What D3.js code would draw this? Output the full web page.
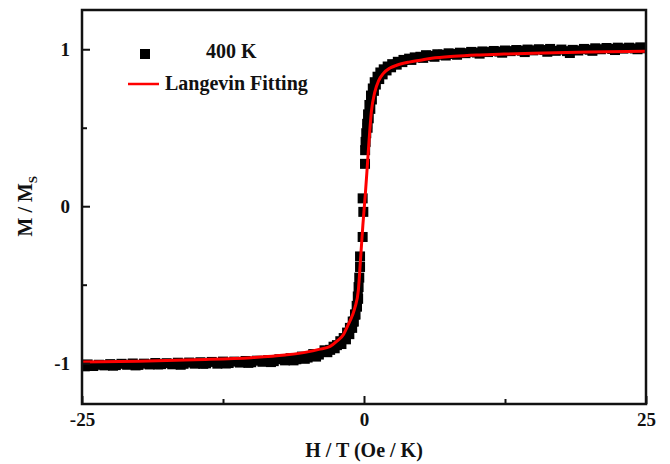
<!DOCTYPE html>
<html>
<head>
<meta charset="utf-8">
<script src="https://cdn.jsdelivr.net/npm/d3@7"></script>
<style>
  html, body { margin: 0; padding: 0; background: #fff; }
  #canvas { width: 670px; height: 464px; }
  text { font-family: "Liberation Serif", "Times New Roman", serif; font-weight: bold; fill: #111; }
  .axis path { display: none; }
  .axis line { stroke: #111; stroke-width: 2px; }
</style>
</head>
<body>
<div id="canvas" class="canvas"></div>
<script>
// measured points, 400 K (H/T in Oe/K, M/Ms) - first sweep
var dataH = [-25,-24.5,-24,-23.5,-23,-22.5,-22,-21.5,-21,-20.5,-20,-19.5,-19,-18.5,-18,-17.5,-17,-16.5,-16,-15.5,
  -15,-14.5,-14,-13.5,-13,-12.5,-12,-11.5,-11,-10.5,-10,-9.5,-9,-8.5,-8,-7.5,-7,-6.5,-6,-5.5,
  -5,-4.5,-4,-3.5,-3,-2.7,-2.4,-2.1,-1.8,-1.5,-1.25,-1,-0.8,-0.65,-0.55,-0.48,-0.42,-0.35,-0.35,-0.12,
  -0.06,-0.12,0.09,0.1,0.14,0.2,0.28,0.36,0.48,0.62,0.78,0.95,1.2,1.45,1.75,2.1,2.5,3,3.5,4,
  4.5,5,5.5,6,6.5,7,7.5,8,8.5,9,9.5,10,10.5,11,11.5,12,12.5,13,13.5,14,
  14.5,15,15.5,16,16.5,17,17.5,18,18.5,19,19.5,20,20.5,21,21.5,22,22.5,23,23.5,24,
  24.5,25];
var dataM = [-1.015,-1.008,-1.018,-1.010,-1.014,-1.006,-1.012,-1.004,-1.010,-1.002,-1.011,-1.003,-1.008,-0.999,-1.006,-1.000,-1.007,-0.997,-1.004,-0.996,
  -1.003,-0.994,-1.001,-0.992,-1.003,-0.990,-0.999,-0.990,-0.996,-0.986,-0.994,-0.984,-0.991,-0.981,-0.987,-0.975,-0.982,-0.968,-0.975,-0.958,
  -0.964,-0.942,-0.945,-0.918,-0.915,-0.895,-0.885,-0.860,-0.840,-0.805,-0.775,-0.735,-0.690,-0.635,-0.575,-0.515,-0.455,-0.387,-0.320,-0.196,
  -0.036,0.050,0.270,0.357,0.410,0.465,0.525,0.585,0.645,0.705,0.750,0.790,0.825,0.852,0.872,0.890,0.905,0.920,0.932,0.940,
  0.948,0.952,0.962,0.958,0.968,0.965,0.974,0.970,0.978,0.975,0.983,0.979,0.986,0.982,0.989,0.985,0.992,0.988,0.995,0.991,
  0.998,0.993,1.000,0.995,1.002,0.990,0.998,0.988,0.996,0.992,1.002,0.997,1.006,1.000,1.008,1.002,1.010,1.004,1.010,1.005,
  1.012,1.006];

// second sweep
var data2H = [-24.75,-22.25,-20.25,-18.25,-16.25,-14.25,-12.25,-10.25,-8.25,-6.25,-5.25,-4.25,-3.25,-2.6,-2,-1.6,-1.3,-1.05,-0.9,-0.75,
  -0.62,-0.52,0.32,0.42,0.56,0.7,0.88,1.05,1.35,1.65,2,2.4,2.9,3.4,4.2,5.25,6.25,7.25,8.25,10.25,
  12.25,14.25,16.25,18.25,20.25,22.25,24.25];
var data2M = [-1.020,-1.016,-1.014,-1.008,-1.010,-1.004,-1.002,-0.998,-0.993,-0.982,-0.972,-0.958,-0.930,-0.905,-0.878,-0.848,-0.815,-0.775,-0.735,-0.690,
  -0.640,-0.590,0.500,0.560,0.620,0.680,0.735,0.775,0.810,0.840,0.865,0.885,0.902,0.918,0.932,0.945,0.952,0.960,0.965,0.972,
  0.978,0.982,0.984,0.976,0.990,0.995,1.000];

// Langevin fit
var fitH = [-25,-20,-15,-10,-7,-5,-4,-3,-2.4,-1.8,-1.4,-1,-0.8,-0.5,-0.3,-0.1,0.1,0.25,0.45,0.65,
  0.95,1.3,1.7,2.3,2.9,4,5,6,8,10,12,15,20,25];
var fitM = [-0.993,-0.988,-0.978,-0.965,-0.948,-0.928,-0.912,-0.893,-0.860,-0.815,-0.755,-0.690,-0.645,-0.535,-0.330,-0.120,0.060,0.210,0.420,0.600,
  0.725,0.800,0.845,0.880,0.898,0.918,0.930,0.942,0.955,0.963,0.968,0.975,0.983,0.988];

var xTicks = [-25,0,25],
    xMinor = [-12.5,12.5],
    yTicks = [-1,0,1],
    yMinor = [-0.5,0.5];

var outerWidth = 670, outerHeight = 464;
var m = {t:10,r:24,b:60,l:82};
var w = outerWidth - m.l - m.r,
    h = outerHeight - m.t - m.b;

var svg = d3.select('.canvas')
    .append('svg')
    .attr('width',outerWidth)
    .attr('height',outerHeight);

var plot = svg.append('g')
    .attr('transform','translate(' + m.l + ',' + m.t + ')');

//Scale
var scaleX = d3.scaleLinear().domain([-25,25]).range([0,w]);
var scaleY = d3.scaleLinear().domain([-1.26,1.25]).range([h,0]);

plot.append('clipPath').attr('id','clip')
    .append('rect').attr('width',w).attr('height',h);

var points = dataH.map(function(d,i){ return {h:d, m:dataM[i]}; })
    .concat(data2H.map(function(d,i){ return {h:d, m:data2M[i]}; }));
var fit = fitH.map(function(d,i){ return {h:d, m:fitM[i]}; });

var layer = plot.append('g').attr('clip-path','url(#clip)');

var sz = 10;
layer.selectAll('.node')
    .data(points)
    .enter()
    .append('rect')
    .attr('class','node')
    .attr('x',function(d){return scaleX(d.h) - sz/2})
    .attr('y',function(d){return scaleY(d.m) - sz/2})
    .attr('width',sz)
    .attr('height',sz)
    .style('fill','#000');

var lineGenerator = d3.line()
    .x(function(d){return scaleX(d.h)})
    .y(function(d){return scaleY(d.m)})
    .curve(d3.curveMonotoneX);

layer.append('path')
    .datum(fit)
    .attr('d',lineGenerator)
    .style('fill','none')
    .style('stroke','#ff0000')
    .style('stroke-width','3px');

//Axis
var fmt = function(d){ return String(d); };
var axisX = d3.axisBottom(scaleX).tickValues(xTicks).tickSize(-8).tickPadding(9).tickFormat(fmt);
var axisXMinor = d3.axisBottom(scaleX).tickValues(xMinor).tickSize(-5).tickFormat('');
var axisY = d3.axisLeft(scaleY).tickValues(yTicks).tickSize(-8).tickPadding(12).tickFormat(fmt);
var axisYMinor = d3.axisLeft(scaleY).tickValues(yMinor).tickSize(-5).tickFormat('');

plot.append('g').attr('class','axis axis-x')
    .attr('transform','translate(0,'+h+')')
    .call(axisX);
plot.append('g').attr('class','axis axis-x')
    .attr('transform','translate(0,'+h+')')
    .call(axisXMinor);
plot.append('g').attr('class','axis axis-y')
    .call(axisY);
plot.append('g').attr('class','axis axis-y')
    .call(axisYMinor);

plot.selectAll('.axis text')
    .style('font-size','19px')
    .style('font-family','"Liberation Serif", "Times New Roman", serif')
    .style('font-weight','bold')
    .style('fill','#111');

//Frame
plot.append('rect')
    .attr('width',w)
    .attr('height',h)
    .style('fill','none')
    .style('stroke','#111')
    .style('stroke-width','2.5px');

//Titles
svg.append('text')
    .attr('x',m.l + scaleX(0))
    .attr('y',457)
    .attr('text-anchor','middle')
    .style('font-size','20px')
    .text('H / T (Oe / K)');

var yl = svg.append('text')
    .attr('transform','translate(32,' + (m.t + scaleY(0)) + ') rotate(-90)')
    .attr('text-anchor','middle')
    .style('font-size','20px');
yl.append('tspan').text('M / M');
yl.append('tspan').attr('dy',5).style('font-size','13px').text('S');

//Legend
var legend = svg.append('g');
legend.append('rect')
    .attr('x',140).attr('y',49).attr('width',10).attr('height',10)
    .style('fill','#000');
legend.append('text')
    .attr('x',206).attr('y',58)
    .style('font-size','20px')
    .text('400 K');
legend.append('line')
    .attr('x1',128).attr('x2',159).attr('y1',84).attr('y2',84)
    .style('stroke','#ff0000').style('stroke-width','2.5px');
legend.append('text')
    .attr('x',165).attr('y',90)
    .style('font-size','20px')
    .text('Langevin Fitting');
</script>
</body>
</html>
